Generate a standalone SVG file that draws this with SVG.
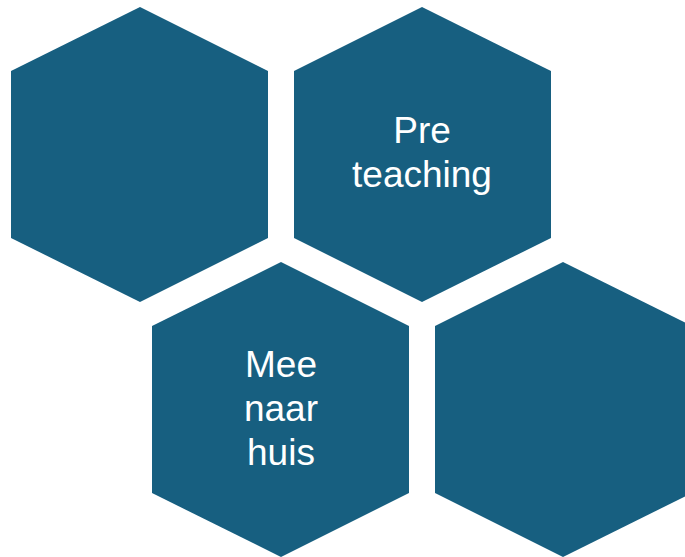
<svg xmlns="http://www.w3.org/2000/svg" width="685" height="557" viewBox="0 0 685 557">
<style>
.hex{fill:#175F80}
.t{fill:#ffffff;font-family:"Liberation Sans",Arial,sans-serif;font-size:37px;text-anchor:middle}
</style>
<rect width="685" height="557" fill="#ffffff"/>
<g id="hex1"><polygon class="hex" points="140,7 268,71 268,238 140,302 11,238 11,71"/></g>
<g id="hex2"><polygon class="hex" points="422,7 551,71 551,238 422,302 294,238 294,71"/><text class="t" x="422" y="143">Pre</text><text class="t" x="422" y="187">teaching</text></g>
<g id="hex3"><polygon class="hex" points="281,262 409,326 409,493 281,557 152,493 152,326"/><text class="t" x="281" y="377">Mee</text><text class="t" x="281" y="421">naar</text><text class="t" x="281" y="465">huis</text></g>
<g id="hex4"><polygon class="hex" points="563,262 692,326 692,493 563,557 435,493 435,326"/></g>
<g id="connectors"></g>
</svg>
